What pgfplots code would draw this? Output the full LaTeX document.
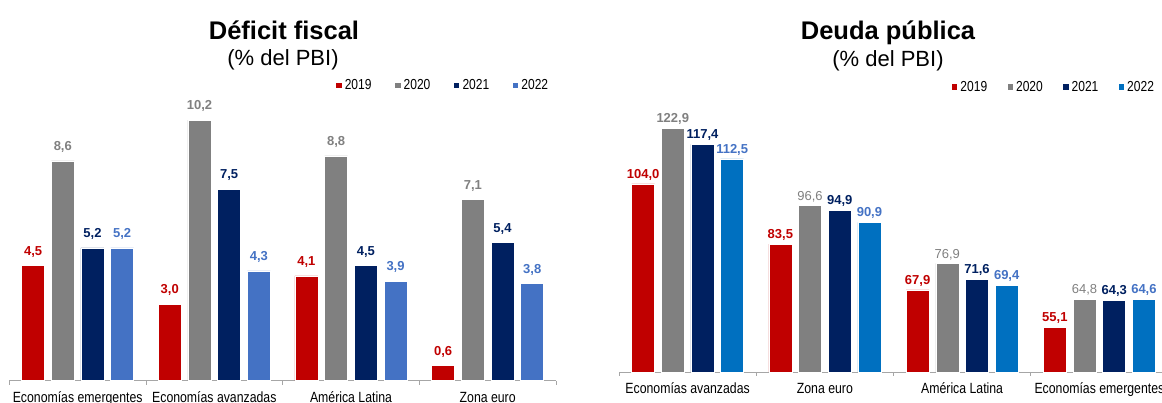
\documentclass[border=0pt]{standalone}
\usepackage{pgfplots}
\pgfplotsset{compat=1.18}
\usepackage{fontspec}
\setmainfont{Liberation Sans}
\newfontfamily\narrow[FakeStretch=0.83]{Liberation Sans}
\definecolor{c19}{HTML}{C00000}
\definecolor{c20}{HTML}{808080}
\definecolor{c21}{HTML}{002060}
\definecolor{c22}{HTML}{4472C4}
\definecolor{c22b}{HTML}{0070C0}
\definecolor{axisgray}{HTML}{A6A6A6}
\pgfkeys{/pgf/number format/.cd, fixed, fixed zerofill, precision=1, use comma, assume math mode=true}
\pgfplotsset{
  mybars/.style={
    scale only axis, clip=false,
    ybar=6.7pt, bar width=23pt,
    xmin=-0.5, xmax=3.5,
    axis x line*=bottom, axis y line=none,
    xtick={0,1,2,3}, major tick length=0pt,
    minor xtick={-0.5,0.5,1.5,2.5,3.5}, minor tick length=4pt, tick align=outside,
    axis line style={draw=axisgray, line width=0.8pt, -},
    tick style={draw=axisgray, line width=0.8pt},
    xticklabel style={font=\narrow\fontsize{14.8}{16}\selectfont, anchor=base, inner sep=0pt},
    ytick=\empty,
    nodes near coords={\pgfmathprintnumber{\pgfplotspointmeta}},
    every node near coord/.append style={font=\bfseries\fontsize{13}{14}\selectfont, inner sep=0pt},
    legend image code/.code={\fill[##1] (0pt,-3.2pt) rectangle (6.4pt,3.2pt);},
    legend style={draw=none, fill=none, legend columns=4, inner sep=0pt, outer sep=0pt,
      font=\narrow\fontsize{14.5}{15}\selectfont, anchor=west,
      nodes={inner xsep=2.6pt, inner ysep=0pt}},
    legend cell align=left,
  },
  bar19/.style={fill=c19, draw=white, line width=0.5pt, every node near coord/.append style={text=c19}},
  bar20/.style={fill=c20, draw=white, line width=0.5pt, every node near coord/.append style={text=c20}},
  bar21/.style={fill=c21, draw=white, line width=0.5pt, every node near coord/.append style={text=c21}},
}
\begin{document}
\begin{tikzpicture}
\useasboundingbox (0pt,0pt) rectangle (1162pt,403pt);
% ---------- Left: Deficit fiscal ----------
\begin{axis}[mybars, at={(9.3pt,22.3pt)}, anchor=south west,
  width=546.7pt, height=280pt, ymin=0, ymax=10.96,
  xticklabels={Economías emergentes, Economías avanzadas, América Latina, Zona euro},
  xticklabel style={yshift=-21.5pt},
  every node near coord/.append style={yshift=8pt},
  legend style={at={(0.5963,1.056)}, /tikz/every even column/.append style={column sep=20pt}}]
\addplot[bar19] coordinates {(0,4.5) (1,3.0) (2,4.1) (3,0.6)};
\addplot[bar20] coordinates {(0,8.6) (1,10.2) (2,8.8) (3,7.1)};
\addplot[bar21] coordinates {(0,5.2) (1,7.5) (2,4.5) (3,5.4)};
\addplot[fill=c22, draw=white, line width=0.5pt, every node near coord/.append style={text=c22}] coordinates {(0,5.2) (1,4.3) (2,3.9) (3,3.8)};
\legend{2019,2020,2021,2022}
\end{axis}
% ---------- Right: Deuda publica ----------
\begin{axis}[mybars, at={(619pt,31pt)}, anchor=south west,
  width=549pt, height=272pt, ymin=40, ymax=132.5,
  xticklabels={Economías avanzadas, Zona euro, América Latina, Economías emergentes},
  xticklabel style={yshift=-21.3pt},
  every node near coord/.append style={yshift=3.5pt},
  legend style={at={(0.6047,1.048)}, /tikz/every even column/.append style={column sep=16.7pt}}]
\addplot[bar19] coordinates {(0,104.0) (1,83.5) (2,67.9) (3,55.1)};
\addplot[bar20, visualization depends on={value \coordindex \as \myidx},
  nodes near coords={\ifnum\myidx=0 \bfseries\else\mdseries\fi\pgfmathprintnumber{\pgfplotspointmeta}}]
  coordinates {(0,122.9) (1,96.6) (2,76.9) (3,64.8)};
\addplot[bar21] coordinates {(0,117.4) (1,94.9) (2,71.6) (3,64.3)};
\addplot[fill=c22b, draw=white, line width=0.5pt, every node near coord/.append style={text=c22}] coordinates {(0,112.5) (1,90.9) (2,69.4) (3,64.6)};
\legend{2019,2020,2021,2022}
\end{axis}
% ---------- Titles ----------
\node[anchor=base, inner sep=0pt, font=\bfseries\fontsize{25.5}{28}\selectfont] at (284pt,363.7pt) {Déficit fiscal};
\node[anchor=base, inner sep=0pt, font=\fontsize{22}{24}\selectfont] at (283pt,337.3pt) {(\% del PBI)};
\node[anchor=base, inner sep=0pt, font=\bfseries\fontsize{25.5}{28}\selectfont] at (888pt,363.7pt) {Deuda pública};
\node[anchor=base, inner sep=0pt, font=\fontsize{22}{24}\selectfont] at (888pt,336.3pt) {(\% del PBI)};
\end{tikzpicture}
\end{document}
